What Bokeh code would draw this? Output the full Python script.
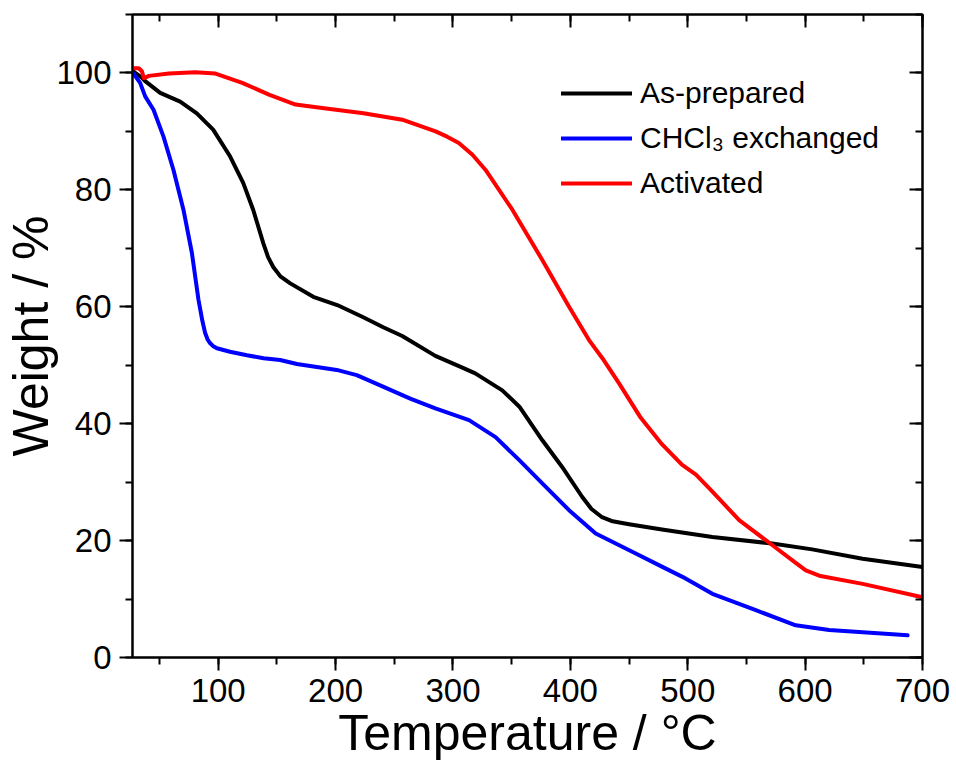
from bokeh.plotting import figure
from bokeh.models import (Range1d, LinearAxis, SingleIntervalTicker, Legend, LegendItem,
                          CustomJSTickFormatter)
from bokeh.embed import file_html
from bokeh.resources import INLINE

# ---- data ----
as_prepared_T = [27, 29.3, 35, 37.8, 50.6, 67.6, 81.8, 95.7, 110.2, 121.3, 129.8, 138.4, 142.5,
                 146.9, 153, 161.4, 181, 201.4, 223.6, 240.6, 256.8, 285, 308, 319, 342, 356.6,
                 376, 393, 410, 418, 427, 436, 450, 478, 521, 572, 606, 649, 700]
as_prepared_W = [100.4, 100.0, 99.2, 98.6, 96.6, 95.1, 93.1, 90.3, 85.7, 81.2, 76.6, 70.9, 68.5,
                 66.8, 65.2, 64.0, 61.7, 60.3, 58.2, 56.5, 55.0, 51.6, 49.6, 48.6, 45.7, 42.9,
                 37.2, 32.6, 27.5, 25.4, 24.0, 23.3, 22.8, 21.9, 20.6, 19.5, 18.5, 16.9, 15.5]

chcl3_T = [27.5, 33.5, 37.8, 44.9, 53.4, 61.9, 70.4, 77.6, 83.2, 86.5, 88.9, 91, 93, 95.5, 98.9,
           110, 124.5, 138.6, 152.8, 167, 201, 218, 240.9, 263.6, 285, 313.7, 336.3, 356.3,
           376.1, 398.9, 421.6, 455.7, 478.4, 495.5, 521, 558, 592, 620.5, 687.3]
chcl3_W = [100.0, 98.3, 96.0, 93.7, 89.1, 83.4, 76.6, 69.2, 61.2, 57.6, 55.5, 54.4, 53.8, 53.3,
           52.9, 52.3, 51.7, 51.2, 50.9, 50.2, 49.2, 48.3, 46.3, 44.3, 42.6, 40.6, 37.7, 33.8,
           29.8, 25.2, 21.2, 17.8, 15.5, 13.8, 10.9, 8.1, 5.5, 4.7, 3.8]

activated_T = [27, 32.4, 35, 36.7, 41, 58, 80.7, 97.7, 120.5, 143.2, 165.9, 188.6, 223.8, 256.8,
               285.2, 295, 305, 316.6, 327.8, 350.6, 376.1, 398.9, 415.9, 427.3, 441.5, 460, 478,
               495, 507, 520, 543.8, 572.2, 592, 600.6, 612, 649, 700]
activated_W = [100.8, 100.8, 100.3, 99.1, 99.5, 99.9, 100.1, 99.9, 98.3, 96.3, 94.6, 94.0, 93.1,
               92.0, 90.0, 89.1, 88.0, 86.0, 83.4, 76.6, 68.0, 60.0, 54.3, 51.2, 46.9, 41.0, 36.5,
               33.0, 31.3, 28.6, 23.5, 19.2, 16.2, 14.9, 14.0, 12.6, 10.3]

series_names = ["As-prepared", "CHCl\u2083 exchanged", "Activated"]
series_colors = ["#000000", "#0000FF", "#FF0000"]

FONT = "Liberation Sans"

p = figure(width=956, height=778, output_backend="svg", toolbar_location=None,
           x_range=Range1d(27, 700), y_range=Range1d(0, 110),
           min_border_left=130, min_border_right=34, min_border_top=14, min_border_bottom=121)
p.background_fill_color = "white"
p.border_fill_color = "white"
p.outline_line_color = "black"
p.outline_line_width = 2
p.grid.visible = False

renderers = []
for T, W, c in zip([as_prepared_T, chcl3_T, activated_T],
                   [as_prepared_W, chcl3_W, activated_W], series_colors):
    r = p.line(T, W, line_color=c, line_width=4, line_join="round", line_cap="round")
    renderers.append(r)

xt = SingleIntervalTicker(interval=100, num_minor_ticks=2)
yt = SingleIntervalTicker(interval=20, num_minor_ticks=2)

xa = p.xaxis[0]
xa.ticker = xt
ya = p.yaxis[0]
ya.ticker = yt

for ax in (xa, ya):
    ax.axis_line_width = 2
    ax.major_tick_line_width = 2
    ax.minor_tick_line_width = 2
    ax.major_tick_out = 13
    ax.major_tick_in = 0
    ax.minor_tick_out = 7
    ax.minor_tick_in = 0
    ax.major_label_text_font = FONT
    ax.major_label_text_font_size = "33px"
    ax.major_label_text_color = "black"
    ax.axis_label_text_font = FONT
    ax.axis_label_text_font_size = "50px"
    ax.axis_label_text_font_style = "normal"
    ax.axis_label_text_color = "black"

xa.axis_label = "Temperature / \u00b0C"
ya.axis_label = "Weight / %"
xa.major_label_standoff = 8
ya.major_label_standoff = 8
xa.axis_label_standoff = 0
ya.axis_label_standoff = -6

blank = CustomJSTickFormatter(code="return ''")
top = LinearAxis(ticker=SingleIntervalTicker(interval=100, num_minor_ticks=2), formatter=blank,
                 major_tick_in=13, major_tick_out=0, minor_tick_in=7, minor_tick_out=0,
                 axis_line_width=2, major_tick_line_width=2, minor_tick_line_width=2,
                 major_label_standoff=0, major_label_text_font_size="1px")
right = LinearAxis(ticker=SingleIntervalTicker(interval=20, num_minor_ticks=2), formatter=blank,
                   major_tick_in=13, major_tick_out=0, minor_tick_in=7, minor_tick_out=0,
                   axis_line_width=2, major_tick_line_width=2, minor_tick_line_width=2,
                   major_label_standoff=0, major_label_text_font_size="1px")
p.add_layout(top, "above")
p.add_layout(right, "right")

legend = Legend(items=[LegendItem(label=n, renderers=[r]) for n, r in zip(series_names, renderers)],
                location=(429, 457), padding=0, spacing=11, glyph_width=71, glyph_height=30,
                label_height=30, label_standoff=8, label_text_font=FONT,
                label_text_font_size="30px", label_text_color="black",
                border_line_color=None, background_fill_alpha=0, margin=0)
p.add_layout(legend, "center")

open("out.html", "w").write(file_html(p, INLINE))
